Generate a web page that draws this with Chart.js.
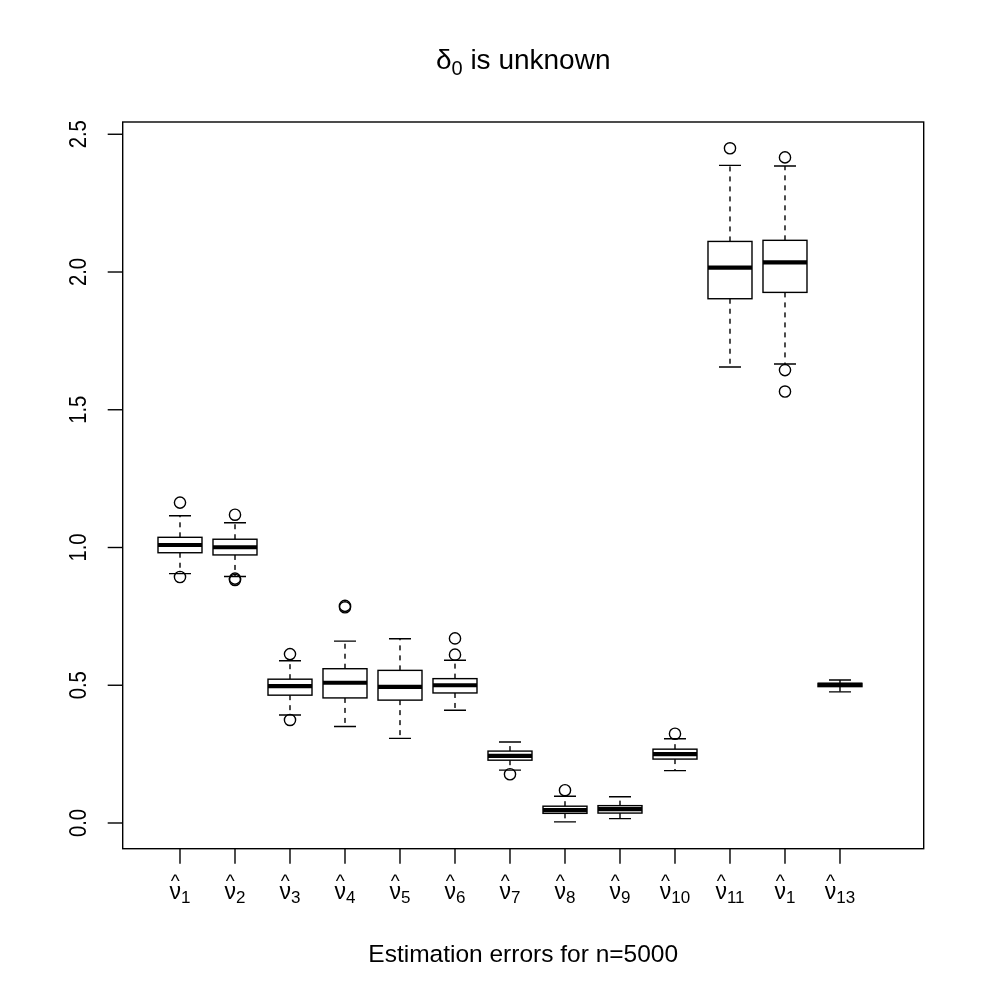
<!DOCTYPE html>
<html>
<head>
<meta charset="utf-8">
<script src="https://cdn.jsdelivr.net/npm/chart.js@4.4.1/dist/chart.umd.min.js"></script>
<style>
  html, body { margin: 0; padding: 0; background: #fff; }
  #wrap { width: 988px; height: 1003px; }
</style>
</head>
<body>
<div id="wrap"><canvas id="c" width="988" height="1003"></canvas></div>
<script>
// ---- data ----
const positions = [1, 2, 3, 4, 5, 6, 7, 8, 9, 10, 11, 12, 13];
const subscripts = ['1', '2', '3', '4', '5', '6', '7', '8', '9', '10', '11', '1', '13'];
const lowerWhisker = [0.905, 0.895, 0.392, 0.350, 0.307, 0.409, 0.192, 0.004, 0.016, 0.190, 1.655, 1.666, 0.476];
const q1           = [0.981, 0.973, 0.464, 0.454, 0.446, 0.472, 0.228, 0.035, 0.036, 0.232, 1.903, 1.926, 0.495];
const medians      = [1.009, 1.001, 0.497, 0.509, 0.494, 0.500, 0.244, 0.047, 0.050, 0.250, 2.016, 2.035, 0.501];
const q3           = [1.037, 1.030, 0.522, 0.560, 0.554, 0.524, 0.261, 0.061, 0.063, 0.268, 2.111, 2.115, 0.507];
const upperWhisker = [1.115, 1.090, 0.589, 0.660, 0.669, 0.591, 0.294, 0.097, 0.095, 0.306, 2.387, 2.385, 0.519];
const outlierPos   = [1, 1, 2, 2, 2, 3, 3, 4, 4, 6, 6, 7, 8, 10, 11, 12, 12, 12];
const outlierVal   = [1.163, 0.893, 1.119, 0.887, 0.882, 0.613, 0.374, 0.788, 0.783, 0.670, 0.611, 0.177, 0.119, 0.324, 2.449, 2.416, 1.644, 1.566];
const yTicks = [0.0, 0.5, 1.0, 1.5, 2.0, 2.5];
const yTickLabels = ['0.0', '0.5', '1.0', '1.5', '2.0', '2.5'];
const titleMain = 'δ';
const titleSub = '0';
const titleRest = ' is unknown';
const xTitle = 'Estimation errors for n=5000';

const FONT = '"Liberation Sans", Arial, Helvetica, sans-serif';

const boxPlugin = {
  id: 'rbox',
  beforeDatasetsDraw(chart) {
    const { ctx, chartArea: a, scales: { x, y } } = chart;
    ctx.save();
    ctx.strokeStyle = '#000';
    ctx.fillStyle = '#000';
    // frame
    ctx.lineWidth = 1.4;
    ctx.strokeRect(a.left, a.top, a.right - a.left, a.bottom - a.top);

    // y ticks + labels
    ctx.font = '23px ' + FONT;
    yTicks.forEach((v, i) => {
      const py = y.getPixelForValue(v);
      ctx.beginPath();
      ctx.moveTo(a.left - 15, py);
      ctx.lineTo(a.left, py);
      ctx.stroke();
      ctx.save();
      ctx.translate(86, py);
      ctx.rotate(-Math.PI / 2);
      ctx.scale(0.88, 1);
      ctx.textAlign = 'center';
      ctx.textBaseline = 'alphabetic';
      ctx.fillText(yTickLabels[i], 0, 0);
      ctx.restore();
    });

    // x ticks + labels
    positions.forEach((p, i) => {
      const px = x.getPixelForValue(p);
      ctx.beginPath();
      ctx.moveTo(px, a.bottom);
      ctx.lineTo(px, a.bottom + 15);
      ctx.stroke();
      ctx.font = '23px ' + FONT;
      const wNu = ctx.measureText('ν').width;
      ctx.font = '17px ' + FONT;
      const wSub = ctx.measureText(subscripts[i]).width;
      const start = px - (wNu + wSub) / 2;
      ctx.textAlign = 'left';
      ctx.textBaseline = 'alphabetic';
      ctx.font = '23px ' + FONT;
      ctx.fillText('ν', start, 899);
      ctx.font = '17px ' + FONT;
      ctx.fillText(subscripts[i], start + wNu, 903);
      ctx.font = '19px ' + FONT;
      ctx.textAlign = 'center';
      ctx.fillText('^', start + wNu / 2, 887);
    });

    // boxes
    const boxW = 0.8, stapleW = 0.4;
    positions.forEach((p, i) => {
      const cx = x.getPixelForValue(p);
      const hw = x.getPixelForValue(p + boxW / 2) - cx;
      const sw = x.getPixelForValue(p + stapleW / 2) - cx;
      const yLw = y.getPixelForValue(lowerWhisker[i]);
      const yQ1 = y.getPixelForValue(q1[i]);
      const yMd = y.getPixelForValue(medians[i]);
      const yQ3 = y.getPixelForValue(q3[i]);
      const yUw = y.getPixelForValue(upperWhisker[i]);
      // whiskers (dashed)
      ctx.lineWidth = 1.4;
      ctx.setLineDash([5, 5]);
      ctx.beginPath();
      ctx.moveTo(cx, yQ1); ctx.lineTo(cx, yLw);
      ctx.stroke();
      ctx.beginPath();
      ctx.moveTo(cx, yQ3); ctx.lineTo(cx, yUw);
      ctx.stroke();
      ctx.setLineDash([]);
      // staples
      ctx.beginPath();
      ctx.moveTo(cx - sw, yLw); ctx.lineTo(cx + sw, yLw);
      ctx.moveTo(cx - sw, yUw); ctx.lineTo(cx + sw, yUw);
      ctx.stroke();
      // box
      ctx.fillStyle = '#fff';
      ctx.fillRect(cx - hw, yQ3, 2 * hw, yQ1 - yQ3);
      ctx.strokeRect(cx - hw, yQ3, 2 * hw, yQ1 - yQ3);
      // median
      ctx.lineWidth = 4.2;
      ctx.lineCap = 'butt';
      ctx.beginPath();
      ctx.moveTo(cx - hw, yMd); ctx.lineTo(cx + hw, yMd);
      ctx.stroke();
      ctx.fillStyle = '#000';
    });

    // titles
    ctx.textBaseline = 'alphabetic';
    ctx.font = '28px ' + FONT;
    const w1 = ctx.measureText(titleMain).width;
    const w3 = ctx.measureText(titleRest).width;
    ctx.font = '20px ' + FONT;
    const w2 = ctx.measureText(titleSub).width;
    const cxm = (a.left + a.right) / 2;
    let sx = cxm - (w1 + w2 + w3) / 2;
    ctx.textAlign = 'left';
    ctx.font = '28px ' + FONT;
    ctx.fillText(titleMain, sx, 69);
    ctx.font = '20px ' + FONT;
    ctx.fillText(titleSub, sx + w1, 75);
    ctx.font = '28px ' + FONT;
    ctx.fillText(titleRest, sx + w1 + w2, 69);

    ctx.font = '24.5px ' + FONT;
    ctx.textAlign = 'center';
    ctx.fillText(xTitle, cxm, 962);
    ctx.restore();
  }
};

new Chart(document.getElementById('c'), {
  type: 'scatter',
  data: {
    datasets: [{
      label: 'outliers',
      data: outlierPos.map((p, i) => ({ x: p, y: outlierVal[i] })),
      pointStyle: 'circle',
      pointRadius: 5.6,
      pointBorderWidth: 1.4,
      pointBorderColor: '#000',
      pointBackgroundColor: 'rgba(0,0,0,0)',
      showLine: false
    }]
  },
  options: {
    responsive: false,
    devicePixelRatio: 1,
    animation: false,
    layout: { padding: { left: 122.7, right: 64.3, top: 122, bottom: 154.3 } },
    plugins: { legend: { display: false }, tooltip: { enabled: false }, title: { display: false } },
    scales: {
      x: { type: 'linear', min: -0.0418, max: 14.522, display: false },
      y: { type: 'linear', min: -0.0933, max: 2.5445, display: false }
    }
  },
  plugins: [boxPlugin]
});
</script>
</body>
</html>
